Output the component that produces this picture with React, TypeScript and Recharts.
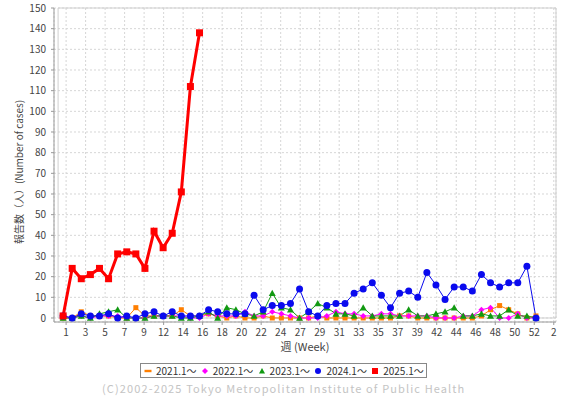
import React from "react";
import { LineChart, Line, XAxis, YAxis, CartesianGrid, ReferenceArea } from "recharts";

// weekly case counts, week 1..53
const WEEKS = Array.from({ length: 53 }, (_, i) => i + 1);

const CASES_2021 = [
  0, 0, 3, 1, 1, 1, 0, 0, 5, 1,
  1, 1, 1, 4, 1, 1, 2, 1, 0, 1,
  0, 0, 1, 0, 0, 0, 0, 0, 1, 0,
  0, 0, 0, 0, 0, 0, 0, 1, 1, 0,
  0, 0, 0, 0, 0, 0, 1, 4, 6, 4,
  2, 0, 1,
];
const CASES_2022 = [
  1, 0, 1, 0, 1, 1, 1, 0, 0, 0,
  1, 1, 1, 1, 0, 0, 2, 1, 1, 1,
  3, 1, 1, 3, 2, 1, 0, 0, 0, 1,
  3, 2, 2, 1, 1, 2, 2, 1, 1, 1,
  1, 0, 0, 0, 1, 1, 4, 5, 0, 0,
  2, 0, 0,
];
const CASES_2023 = [
  0, 0, 1, 0, 2, 3, 4, 0, 0, 0,
  1, 1, 1, 0, 0, 1, 3, 0, 5, 4,
  2, 1, 3, 12, 5, 4, 0, 3, 7, 5,
  2, 2, 1, 5, 1, 1, 1, 1, 4, 1,
  1, 2, 3, 5, 1, 1, 2, 1, 1, 4,
  1, 1, 0,
];
const CASES_2024 = [
  1, 0, 2, 1, 1, 2, 0, 1, 0, 2,
  3, 1, 3, 1, 1, 1, 4, 3, 2, 2,
  2, 11, 4, 6, 6, 7, 14, 3, 1, 6,
  7, 7, 12, 14, 17, 11, 5, 12, 13, 10,
  22, 16, 9, 15, 15, 13, 21, 17, 15, 17,
  17, 25, 0,
];
const CASES_2025 = [1, 24, 19, 21, 24, 19, 31, 32, 31, 24, 42, 34, 41, 61, 112, 138];

const X_TICK_LABELS = [
  "1", "3", "5", "7", "9", "12", "14", "16", "18", "20", "22", "24", "27",
  "29", "31", "33", "35", "37", "39", "42", "44", "46", "48", "50", "52", "2",
];
const Y_TICKS = [0, 10, 20, 30, 40, 50, 60, 70, 80, 90, 100, 110, 120, 130, 140, 150];

// tick marks sit about every 15 days, so they drift against the weeks
const X_TICK_FIRST = 1.33;
const X_TICK_STEP = 2.145;
const X_TICKS = X_TICK_LABELS.map((_, i) => X_TICK_FIRST + i * X_TICK_STEP);

const FONT = '"Noto Sans CJK JP", "Noto Sans", sans-serif';

const SERIES = [
  { key: "y2021", name: "2021.1〜", color: "#ff7f00", shape: "square", legend: "dash", size: 5, width: 1, values: CASES_2021 },
  { key: "y2022", name: "2022.1〜", color: "#ff00ff", shape: "diamond", legend: "diamond", size: 6, width: 1, values: CASES_2022 },
  { key: "y2023", name: "2023.1〜", color: "#119911", shape: "triangle", legend: "triangle", size: 7, width: 1, values: CASES_2023 },
  { key: "y2024", name: "2024.1〜", color: "#0a0aee", shape: "circle", legend: "circle", size: 7, width: 1, values: CASES_2024 },
  { key: "y2025", name: "2025.1〜", color: "#ff0000", shape: "square", legend: "square", size: 7, width: 3, values: CASES_2025 },
];

const rows = WEEKS.map((week, i) => {
  const row: any = { week };
  SERIES.forEach((s) => {
    row[s.key] = s.values[i];
  });
  return row;
});

const Glyph = ({ cx, cy, shape, size, color }: any) => {
  const h = size / 2;
  if (shape === "circle") return <circle cx={cx} cy={cy} r={h} fill={color} />;
  if (shape === "diamond")
    return <polygon points={`${cx},${cy - h} ${cx + h},${cy} ${cx},${cy + h} ${cx - h},${cy}`} fill={color} />;
  if (shape === "triangle")
    return <polygon points={`${cx},${cy - h} ${cx + h},${cy + h * 0.8} ${cx - h},${cy + h * 0.8}`} fill={color} />;
  if (shape === "dash") return <rect x={cx - h} y={cy - 1.2} width={size} height={2.4} fill={color} />;
  return <rect x={cx - h} y={cy - h} width={size} height={size} fill={color} />;
};

const makeDot = (s: any) => (p: any) => {
  if (p.cx == null || p.cy == null || p.value == null) return <g key={`${s.key}-${p.index}`} />;
  return (
    <g key={`${s.key}-${p.index}`}>
      <Glyph cx={p.cx} cy={p.cy} shape={s.shape} size={s.size} color={s.color} />
    </g>
  );
};

const YTitle = () => (
  <text
    x={18}
    y={172}
    transform="rotate(-90 18 172)"
    textAnchor="middle"
    dominantBaseline="central"
    fontSize={10}
    fill="#444"
    fontFamily={FONT}
  >
    報告数（人）(Number of cases)
  </text>
);

export default function App() {
  return (
    <div style={{ position: "absolute", left: 0, top: 0, width: 567, height: 399, background: "#fff", fontFamily: FONT }}>
      <LineChart width={567} height={399} data={rows} margin={{ top: 8, right: 11, bottom: 47, left: 0 }}>
        <CartesianGrid stroke="#d6d6d6" strokeDasharray="2 2" />
        <ReferenceArea x1={0.45} x2={55.2} y1={0} y2={150} fill="none" stroke="#cfcfcf" ifOverflow="visible" />
        <XAxis
          type="number"
          dataKey="week"
          domain={[0, 55.2]}
          ticks={X_TICKS}
          interval={0}
          allowDataOverflow
          tickFormatter={(v: number, i: number) => X_TICK_LABELS[i]}
          height={30}
          tickSize={3}
          tickMargin={4}
          stroke="#999"
          tick={{ fontSize: 10, fill: "#444", fontFamily: FONT }}
          label={{ value: "週 (Week)", position: "insideBottom", offset: 1, fontSize: 11, fill: "#444", fontFamily: FONT }}
        />
        <YAxis
          type="number"
          domain={[-1.94, 150]}
          ticks={Y_TICKS}
          interval={0}
          allowDataOverflow
          width={54}
          tickSize={3}
          tickMargin={5}
          stroke="#999"
          tick={{ fontSize: 10, fill: "#444", fontFamily: FONT }}
          label={<YTitle />}
        />
        {SERIES.map((s) => (
          <Line
            key={s.key}
            dataKey={s.key}
            name={s.name}
            stroke={s.color}
            strokeWidth={s.width}
            dot={makeDot(s)}
            activeDot={false}
            isAnimationActive={false}
            connectNulls={false}
          />
        ))}
      </LineChart>

      <div
        style={{
          position: "absolute",
          left: 140,
          top: 363,
          width: 284,
          height: 13,
          border: "1px solid #888",
          display: "flex",
          alignItems: "center",
          paddingLeft: 1,
          fontSize: 10,
          color: "#333",
        }}
      >
        {SERIES.map((s) => (
          <div key={s.key} style={{ width: 57, display: "flex", alignItems: "center", whiteSpace: "nowrap" }}>
            <svg width={12} height={10} style={{ marginRight: 2 }}>
              <Glyph cx={6} cy={5} shape={s.legend} size={s.legend === "dash" ? 7 : 6} color={s.color} />
            </svg>
            <span>{s.name}</span>
          </div>
        ))}
      </div>

      <div
        style={{
          position: "absolute",
          left: 102,
          top: 380,
          fontSize: 11,
          letterSpacing: 1.12,
          color: "#c4c4c4",
          whiteSpace: "nowrap",
        }}
      >
        (C)2002-2025 Tokyo Metropolitan Institute of Public Health
      </div>
    </div>
  );
}
